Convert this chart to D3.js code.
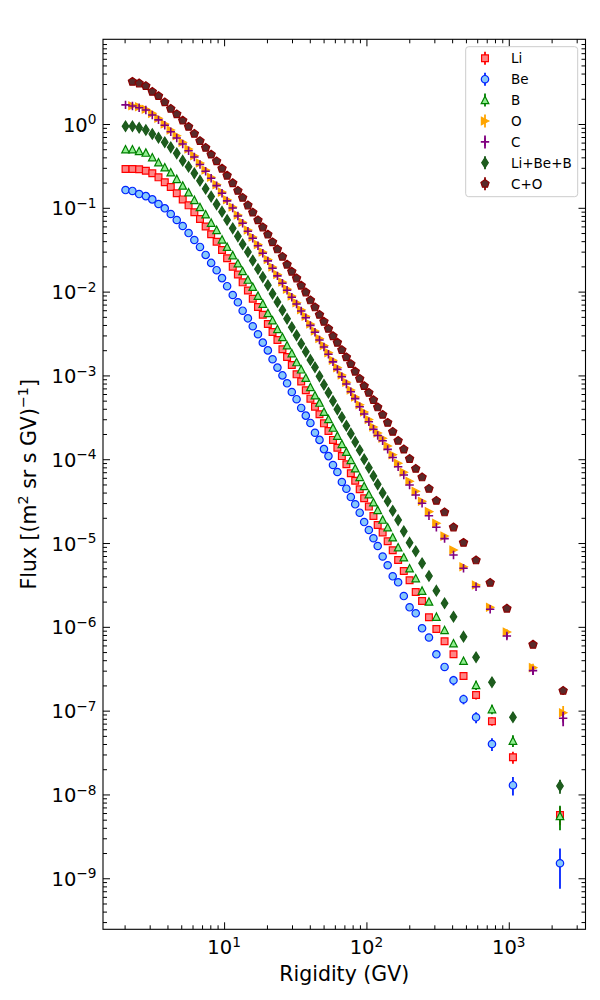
<!DOCTYPE html>
<html lang="en">
<head>
<meta charset="UTF-8">
<title>Flux vs Rigidity</title>
<script src="https://d3js.org/d3.v7.min.js"></script>
<style>
  body { margin: 0; background: #fff; }
  svg { display: block; font-family: "DejaVu Sans", sans-serif; }
</style>
</head>
<body>
<svg width="600" height="1000"></svg>
<script>
// rigidity bin centres (GV)
var rigLiBeB = [2.03, 2.27, 2.53, 2.82, 3.13, 3.46, 3.83, 4.22, 4.65, 5.12,
  5.63, 6.18, 6.77, 7.42, 8.11, 8.86, 9.67, 10.5, 11.5, 12.5,
  13.5, 14.7, 15.9, 17.3, 18.7, 20.3, 21.9, 23.7, 25.7, 27.7,
  29.9, 32.3, 34.8, 37.5, 40.4, 43.5, 46.8, 50.3, 54.1, 58.2,
  62.5, 67.2, 72.3, 77.7, 83.4, 89.7, 96.4, 104, 112, 120,
  130, 141, 153, 167, 183, 201, 222, 246, 275, 310,
  354, 409, 481, 589, 762, 1070, 2290];

var rigCO = [2.03, 2.27, 2.53, 2.82, 3.13, 3.46, 3.83, 4.22, 4.65, 5.12,
  5.63, 6.18, 6.77, 7.42, 8.11, 8.86, 9.67, 10.5, 11.5, 12.5,
  13.5, 14.7, 15.9, 17.3, 18.7, 20.3, 21.9, 23.7, 25.7, 27.7,
  29.9, 32.3, 34.8, 37.5, 40.4, 43.5, 46.8, 50.3, 54.1, 58.2,
  62.5, 67.2, 72.3, 77.7, 83.4, 89.7, 96.4, 104, 112, 120,
  130, 141, 153, 167, 183, 201, 222, 246, 275, 310,
  354, 409, 481, 589, 740, 970, 1480, 2410];

// fluxes [(m^2 sr s GV)^-1]
var fluxLi = [2.90e-1, 2.90e-1, 2.88e-1, 2.77e-1, 2.58e-1, 2.31e-1, 2.02e-1, 1.77e-1, 1.49e-1, 1.26e-1,
  1.07e-1, 8.84e-2, 7.35e-2, 5.98e-2, 4.84e-2, 3.94e-2, 3.14e-2, 2.50e-2, 1.98e-2, 1.60e-2,
  1.29e-2, 1.03e-2, 8.23e-3, 6.55e-3, 5.30e-3, 4.11e-3, 3.30e-3, 2.65e-3, 2.05e-3, 1.66e-3,
  1.33e-3, 1.03e-3, 8.46e-4, 6.65e-4, 5.28e-4, 4.23e-4, 3.44e-4, 2.68e-4, 2.17e-4, 1.70e-4,
  1.37e-4, 1.09e-4, 8.70e-5, 6.80e-5, 5.54e-5, 4.38e-5, 3.42e-5, 2.72e-5, 2.10e-5, 1.64e-5,
  1.34e-5, 1.05e-5, 8.19e-6, 6.28e-6, 4.64e-6, 3.59e-6, 2.60e-6, 2.03e-6, 1.30e-6, 9.43e-7,
  6.72e-7, 4.70e-7, 2.59e-7, 1.54e-7, 7.46e-8, 2.78e-8, 5.69e-9];

var fluxBe = [1.63e-1, 1.59e-1, 1.46e-1, 1.38e-1, 1.26e-1, 1.11e-1, 9.86e-2, 8.44e-2, 7.15e-2, 6.07e-2,
  5.00e-2, 4.13e-2, 3.41e-2, 2.74e-2, 2.20e-2, 1.80e-2, 1.45e-2, 1.16e-2, 9.11e-3, 7.46e-3,
  5.92e-3, 4.80e-3, 3.86e-3, 3.10e-3, 2.46e-3, 1.99e-3, 1.56e-3, 1.24e-3, 1.00e-3, 8.05e-4,
  6.34e-4, 5.20e-4, 4.09e-4, 3.31e-4, 2.71e-4, 2.07e-4, 1.70e-4, 1.32e-4, 1.09e-4, 8.53e-5,
  7.04e-5, 5.35e-5, 4.45e-5, 3.54e-5, 2.90e-5, 2.30e-5, 1.78e-5, 1.43e-5, 1.14e-5, 9.22e-6,
  6.91e-6, 5.43e-6, 4.01e-6, 3.40e-6, 2.33e-6, 1.71e-6, 1.45e-6, 9.61e-7, 7.46e-7, 4.70e-7,
  3.32e-7, 2.30e-7, 1.37e-7, 8.33e-8, 4.00e-8, 1.29e-8, 1.51e-9];

var fluxB = [4.99e-1, 4.99e-1, 4.76e-1, 4.55e-1, 4.01e-1, 3.49e-1, 3.04e-1, 2.65e-1, 2.21e-1, 1.84e-1,
  1.53e-1, 1.24e-1, 1.02e-1, 8.37e-2, 6.64e-2, 5.44e-2, 4.19e-2, 3.42e-2, 2.72e-2, 2.18e-2,
  1.76e-2, 1.39e-2, 1.14e-2, 8.94e-3, 7.17e-3, 5.56e-3, 4.55e-3, 3.58e-3, 2.87e-3, 2.29e-3,
  1.84e-3, 1.44e-3, 1.18e-3, 9.39e-4, 7.27e-4, 5.79e-4, 4.73e-4, 3.69e-4, 3.02e-4, 2.38e-4,
  1.91e-4, 1.52e-4, 1.23e-4, 9.79e-5, 7.79e-5, 6.14e-5, 4.79e-5, 3.82e-5, 3.06e-5, 2.48e-5,
  1.90e-5, 1.54e-5, 1.17e-5, 8.90e-6, 6.76e-6, 4.99e-6, 3.80e-6, 2.70e-6, 2.00e-6, 1.32e-6,
  9.17e-7, 6.36e-7, 3.93e-7, 2.02e-7, 1.04e-7, 4.38e-8, 5.54e-9];

var fluxLiBeB = [9.39e-1, 9.39e-1, 9.03e-1, 8.48e-1, 7.60e-1, 6.86e-1, 6.05e-1, 5.27e-1, 4.47e-1, 3.65e-1,
  3.09e-1, 2.58e-1, 2.11e-1, 1.69e-1, 1.36e-1, 1.10e-1, 8.99e-2, 7.15e-2, 5.69e-2, 4.57e-2,
  3.68e-2, 2.97e-2, 2.35e-2, 1.86e-2, 1.49e-2, 1.19e-2, 9.44e-3, 7.52e-3, 5.99e-3, 4.75e-3,
  3.76e-3, 3.01e-3, 2.39e-3, 1.92e-3, 1.53e-3, 1.25e-3, 9.76e-4, 7.75e-4, 6.22e-4, 4.95e-4,
  3.94e-4, 3.17e-4, 2.51e-4, 2.02e-4, 1.61e-4, 1.28e-4, 9.98e-5, 7.93e-5, 6.31e-5, 5.02e-5,
  3.96e-5, 3.16e-5, 2.43e-5, 1.88e-5, 1.38e-5, 1.01e-5, 7.97e-6, 5.73e-6, 4.04e-6, 2.70e-6,
  1.91e-6, 1.32e-6, 7.63e-7, 4.33e-7, 2.18e-7, 8.33e-8, 1.26e-8];

var fluxC = [1.69, 1.64, 1.56, 1.47, 1.28, 1.12, 9.65e-1, 8.09e-1, 6.81e-1, 5.77e-1,
  4.80e-1, 4.04e-1, 3.29e-1, 2.73e-1, 2.25e-1, 1.84e-1, 1.49e-1, 1.21e-1, 9.95e-2, 7.99e-2,
  6.53e-2, 5.26e-2, 4.34e-2, 3.53e-2, 2.87e-2, 2.33e-2, 1.90e-2, 1.54e-2, 1.26e-2, 1.04e-2,
  8.55e-3, 7.12e-3, 5.87e-3, 4.88e-3, 3.96e-3, 3.27e-3, 2.65e-3, 2.18e-3, 1.79e-3, 1.45e-3,
  1.18e-3, 9.66e-4, 7.90e-4, 6.39e-4, 5.28e-4, 4.23e-4, 3.47e-4, 2.80e-4, 2.28e-4, 1.92e-4,
  1.66e-4, 1.31e-4, 1.05e-4, 8.14e-5, 6.49e-5, 4.93e-5, 3.74e-5, 2.98e-5, 2.12e-5, 1.54e-5,
  1.13e-5, 7.20e-6, 5.00e-6, 3.01e-6, 1.62e-6, 7.78e-7, 3.00e-7, 8.11e-8];

var fluxO = [null, 1.65, 1.61, 1.50, 1.34, 1.17, 1.00, 8.48e-1, 7.25e-1, 6.05e-1,
  5.03e-1, 4.19e-1, 3.42e-1, 2.83e-1, 2.31e-1, 1.89e-1, 1.54e-1, 1.25e-1, 1.02e-1, 8.21e-2,
  6.72e-2, 5.44e-2, 4.48e-2, 3.65e-2, 2.97e-2, 2.42e-2, 1.97e-2, 1.60e-2, 1.30e-2, 1.07e-2,
  8.87e-3, 7.38e-3, 6.09e-3, 5.08e-3, 4.11e-3, 3.39e-3, 2.76e-3, 2.28e-3, 1.87e-3, 1.52e-3,
  1.24e-3, 1.01e-3, 8.28e-4, 6.70e-4, 5.53e-4, 4.47e-4, 3.66e-4, 2.98e-4, 2.42e-4, 2.06e-4,
  1.78e-4, 1.44e-4, 1.13e-4, 8.94e-5, 6.98e-5, 5.46e-5, 4.14e-5, 3.15e-5, 2.37e-5, 1.72e-5,
  1.21e-5, 8.26e-6, 5.22e-6, 3.16e-6, 1.71e-6, 8.68e-7, 3.26e-7, 9.46e-8];

var fluxCO = [null, 3.20, 3.06, 2.84, 2.43, 2.16, 1.82, 1.52, 1.31, 1.10,
  9.29e-1, 7.66e-1, 6.27e-1, 5.21e-1, 4.33e-1, 3.60e-1, 2.94e-1, 2.42e-1, 1.97e-1, 1.60e-1,
  1.32e-1, 1.07e-1, 8.79e-2, 7.11e-2, 5.85e-2, 4.80e-2, 3.89e-2, 3.20e-2, 2.61e-2, 2.10e-2,
  1.73e-2, 1.44e-2, 1.18e-2, 9.81e-3, 7.88e-3, 6.50e-3, 5.30e-3, 4.38e-3, 3.61e-3, 2.95e-3,
  2.46e-3, 2.01e-3, 1.65e-3, 1.37e-3, 1.11e-3, 9.14e-4, 7.48e-4, 6.22e-4, 5.09e-4, 4.17e-4,
  3.40e-4, 2.73e-4, 2.13e-4, 1.66e-4, 1.31e-4, 1.01e-4, 7.71e-5, 6.09e-5, 4.45e-5, 3.20e-5,
  2.33e-5, 1.54e-5, 1.01e-5, 6.23e-6, 3.36e-6, 1.65e-6, 6.13e-7, 1.73e-7];

// flux errors, only the last points of each series (aligned to the end)
var errLi = [2.1e-8, 1.8e-8, 8.6e-9, 4.6e-9, 1.4e-9];
var errBe = [3.0e-8, 1.8e-8, 1.25e-8, 7.0e-9, 3.2e-9, 7.6e-10];
var errB = [2.6e-8, 1.35e-8, 7.0e-9, 1.8e-9];
var errLiBeB = [1.8e-8, 9.0e-9, 2.4e-9];
var errC = [6.0e-8, 3.3e-8, 1.6e-8];
var errO = [6.5e-8, 3.6e-8, 1.9e-8];
var errCO = [5.0e-8, 1.9e-8];

// axis ticks
var xMajor = [10, 100, 1000];
var xMinor = [2, 3, 4, 5, 6, 7, 8, 9, 20, 30, 40, 50, 60, 70, 80, 90,
  200, 300, 400, 500, 600, 700, 800, 900, 2000, 3000];
var yMajor = [1e-9, 1e-8, 1e-7, 1e-6, 1e-5, 1e-4, 1e-3, 1e-2, 1e-1, 1];

var series = [
  { name: "Li", x: rigLiBeB, y: fluxLi, err: errLi, marker: "square", stroke: "#ff0000", fill: "#ff8585" },
  { name: "Be", x: rigLiBeB, y: fluxBe, err: errBe, marker: "circle", stroke: "#0022ff", fill: "#87c8fa" },
  { name: "B", x: rigLiBeB, y: fluxB, err: errB, marker: "triUp", stroke: "#008000", fill: "#90ee90" },
  { name: "O", x: rigCO, y: fluxO, err: errO, marker: "triRight", stroke: "#ffa500", fill: "#ffa500" },
  { name: "C", x: rigCO, y: fluxC, err: errC, marker: "plus", stroke: "#800080", fill: "none" },
  { name: "Li+Be+B", x: rigLiBeB, y: fluxLiBeB, err: errLiBeB, marker: "diamond", stroke: "#1a5a1a", fill: "#1e5c1e" },
  { name: "C+O", x: rigCO, y: fluxCO, err: errCO, marker: "pentagon", stroke: "#8b0000", fill: "#5a2a2a" }
];

var padL = 103, padR = 585.5, padT = 39.3, padB = 929.3;

var x = d3.scaleLog().domain([1.41, 3460]).range([padL, padR]);
var y = d3.scaleLog().domain([2.46e-10, 10.25]).range([padB, padT]);

var svg = d3.select("svg");

function markerPath(type) {
  switch (type) {
    case "square": return "M-3.4,-3.4H3.4V3.4H-3.4Z";
    case "circle": return "M3.7,0A3.7,3.7 0 1,1 -3.7,0A3.7,3.7 0 1,1 3.7,0Z";
    case "triUp": return "M0,-3.8L-3.8,3.6L3.8,3.6Z";
    case "triRight": return "M3.8,0L-3.6,-3.8L-3.6,3.8Z";
    case "plus": return "M-4.2,0H4.2M0,-4.2V4.2";
    case "diamond": return "M0,-5.2L3.3,0L0,5.2L-3.3,0Z";
    case "pentagon":
      var p = d3.path();
      for (var k = 0; k < 5; k++) {
        var a = -Math.PI / 2 + k * 2 * Math.PI / 5;
        var px = 4.3 * Math.cos(a), py = 4.3 * Math.sin(a);
        if (k === 0) p.moveTo(px, py); else p.lineTo(px, py);
      }
      p.closePath();
      return p.toString();
  }
}

var plot = svg.append("g");

series.forEach(function(s) {
  var pts = [];
  var off = s.y.length - s.err.length;
  s.y.forEach(function(v, i) {
    if (v == null) return;
    pts.push({ x: s.x[i], y: v, e: i >= off ? s.err[i - off] : 0 });
  });

  var g = plot.append("g");

  g.selectAll("line")
    .data(pts.filter(d => d.e > 0))
    .enter()
    .append("line")
    .attr("x1", d => x(d.x))
    .attr("x2", d => x(d.x))
    .attr("y1", d => y(d.y + d.e))
    .attr("y2", d => y(Math.max(d.y - d.e, 1e-12)))
    .attr("stroke", s.stroke)
    .attr("stroke-width", 1.8);

  g.selectAll("path")
    .data(pts)
    .enter()
    .append("path")
    .attr("transform", d => `translate(${x(d.x)},${y(d.y)})`)
    .attr("d", markerPath(s.marker))
    .attr("fill", s.fill)
    .attr("stroke", s.stroke)
    .attr("stroke-width", s.marker === "plus" ? 1.6 : 1.2);
});

// axes (ticks pointing inwards on all four sides)
function tickAxis(axisFn, scale, values, size, tx, ty) {
  var g = svg.append("g")
    .attr("transform", `translate(${tx},${ty})`)
    .call(axisFn(scale).tickValues(values).tickSize(-size).tickSizeOuter(0).tickFormat(""));
  g.select(".domain").remove();
  g.selectAll(".tick line").attr("stroke", "#000").attr("stroke-width", 1);
  return g;
}

tickAxis(d3.axisBottom, x, xMajor, 7, 0, padB);
tickAxis(d3.axisBottom, x, xMinor, 4, 0, padB);
tickAxis(d3.axisTop, x, xMajor, 7, 0, padT);
tickAxis(d3.axisTop, x, xMinor, 4, 0, padT);

var yMinor = [];
yMajor.concat([1e-10]).forEach(function(m) {
  [2, 3, 4, 5, 6, 7, 8, 9].forEach(function(k) {
    var v = m * k;
    if (v > y.domain()[0] && v < y.domain()[1]) yMinor.push(v);
  });
});

tickAxis(d3.axisLeft, y, yMajor, 7, padL, 0);
tickAxis(d3.axisLeft, y, yMinor, 4, padL, 0);
tickAxis(d3.axisRight, y, yMajor, 7, padR, 0);
tickAxis(d3.axisRight, y, yMinor, 4, padR, 0);

svg.append("rect")
  .attr("x", padL).attr("y", padT)
  .attr("width", padR - padL).attr("height", padB - padT)
  .attr("fill", "none")
  .attr("stroke", "#000")
  .attr("stroke-width", 1.1);

function expText(v) {
  var e = Math.round(Math.log10(v));
  return e < 0 ? "\u2212" + (-e) : String(e);
}

// tick labels
xMajor.forEach(function(v) {
  var t = svg.append("text")
    .attr("x", x(v))
    .attr("y", padB + 25)
    .attr("text-anchor", "middle")
    .attr("font-size", "19.5px")
    .attr("fill", "#000");
  t.append("tspan").text("10");
  t.append("tspan").attr("dy", -7.2).attr("font-size", "13.7px").text(expText(v));
});

yMajor.forEach(function(v) {
  var t = svg.append("text")
    .attr("x", 96.5)
    .attr("y", y(v) + 7.6)
    .attr("text-anchor", "end")
    .attr("font-size", "19.5px")
    .attr("fill", "#000");
  t.append("tspan").text("10");
  t.append("tspan").attr("dy", -7.4).attr("font-size", "13.7px").text(expText(v));
});

// axis labels
svg.append("text")
  .attr("x", (padL + padR) / 2)
  .attr("y", 981)
  .attr("text-anchor", "middle")
  .attr("font-size", "20.5px")
  .text("Rigidity (GV)");

var yl = svg.append("text")
  .attr("transform", `translate(36,${(padT + padB) / 2}) rotate(-90)`)
  .attr("text-anchor", "middle")
  .attr("font-size", "20.5px");
yl.append("tspan").text("Flux [(m");
yl.append("tspan").attr("dy", -8).attr("font-size", "14.3px").text("2");
yl.append("tspan").attr("dy", 8).text(" sr s GV)");
yl.append("tspan").attr("dy", -8).attr("font-size", "14.3px").text("\u22121");
yl.append("tspan").attr("dy", 8).text("]");

// legend
var lg = svg.append("g");
lg.append("rect")
  .attr("x", 465.7).attr("y", 46.7)
  .attr("width", 112).attr("height", 150)
  .attr("rx", 3)
  .attr("fill", "#fff").attr("fill-opacity", 0.8)
  .attr("stroke", "#cccccc").attr("stroke-width", 1);

series.forEach(function(s, i) {
  var ry = 58.3 + i * 20.9;
  var row = lg.append("g").attr("transform", `translate(485,${ry})`);
  row.append("line")
    .attr("x1", 0).attr("x2", 0).attr("y1", -6.5).attr("y2", 6.5)
    .attr("stroke", s.stroke).attr("stroke-width", 1.8);
  row.append("path")
    .attr("d", markerPath(s.marker))
    .attr("fill", s.fill)
    .attr("stroke", s.stroke)
    .attr("stroke-width", s.marker === "plus" ? 1.6 : 1.2);
  lg.append("text")
    .attr("x", 511)
    .attr("y", ry + 5)
    .attr("font-size", "13.5px")
    .text(s.name);
});
</script>
</body>
</html>
